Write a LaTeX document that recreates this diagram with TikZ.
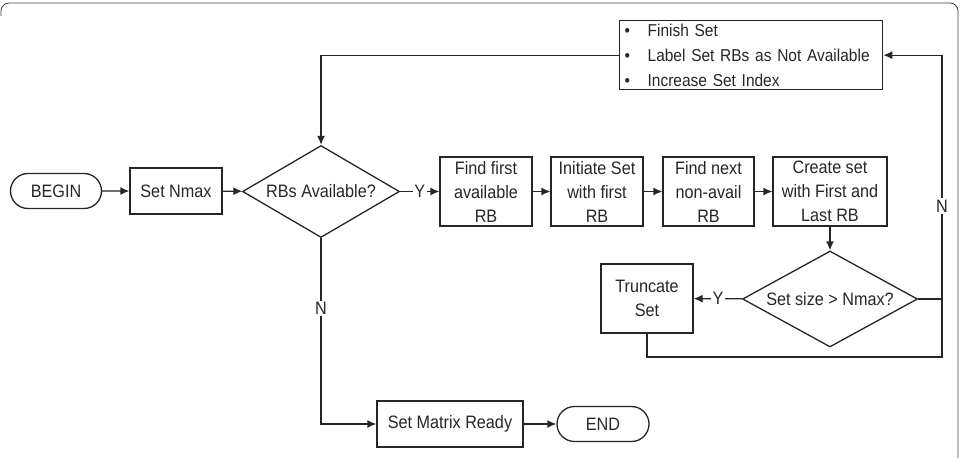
\documentclass[tikz,border=0pt]{standalone}
\usepackage{fontspec}
\setmainfont{Liberation Sans}[FakeStretch=0.9]
\usetikzlibrary{shapes.geometric, shapes.misc, arrows.meta, positioning}

\begin{document}
\begin{tikzpicture}[x=1pt, y=-1pt,
  every node/.style={font=\fontsize{18}{24}\selectfont, text=black!85},
  wire/.style={draw=black!85, line width=1.3pt},
  flow/.style={wire, -{Latex[length=9pt, width=8pt]}},
  terminal/.style={wire, rounded rectangle, minimum width=91pt, minimum height=35pt, inner sep=0pt},
  stepbox/.style={wire, rectangle, align=center, minimum width=92pt, minimum height=69pt, inner sep=0pt},
  decision/.style={wire, diamond, aspect=1.7, inner sep=0pt},
  lbl/.style={fill=white, inner sep=1.5pt}]
				\useasboundingbox (0,0) rectangle (961,458);

				% Outer frame
				\draw[black!75, line width=0.8pt, rounded corners=8pt] (1,16) |- (958,3) -- (958,458);

				% Main row
				\node[terminal] (begin) at (56,191) {BEGIN};
				\node[stepbox, minimum height=46pt] (nmax) at (176,191) {Set Nmax};
				\node[decision, minimum width=157pt, minimum height=92pt] (rbs) at (321,191.5) {RBs Available?};
				\node[stepbox] (first) at (486,191.5) {Find first\\available\\RB};
				\node[stepbox] (init) at (597,191.5) {Initiate Set\\with first\\RB};
				\node[stepbox, minimum width=91pt] (next) at (708.5,191.5) {Find next\\non-avail\\RB};
				\node[stepbox, minimum width=114pt] (create) at (830,191.5) {Create set\\with First and\\Last RB};

				% Set bookkeeping
				\node[wire, anchor=north west, text width=253pt, inner xsep=5pt, inner ysep=0pt,
				      minimum height=69pt, align=left, font=\fontsize{17.2}{25}\selectfont] (bullets) at (619,20)
				      {\mbox{\makebox[23pt][l]{\textbullet}Finish Set}\\
				       \mbox{\makebox[23pt][l]{\textbullet}Label Set RBs as Not Available}\\
				       \mbox{\makebox[23pt][l]{\textbullet}Increase Set Index}};

				% Size check
				\node[decision, minimum width=175pt, minimum height=96pt] (sizeq) at (830,299) {Set size > Nmax?};
				\node[stepbox] (trunc) at (647,298.5) {Truncate\\Set};
				\coordinate (loop) at (942,357);

				% Exit row
				\node[stepbox, minimum width=146pt, minimum height=46pt] (ready) at (450,424) {Set Matrix Ready};
				\node[terminal, minimum width=92pt] (endn) at (603,424) {END};

				% Connectors
				\draw[flow] (begin) -- (nmax);
				\draw[flow] (nmax) -- (rbs);
				\draw[flow] (rbs) -- node[lbl]{Y} (first);
				\draw[flow] (first) -- (init);
				\draw[flow] (init) -- (next);
				\draw[flow] (next) -- (create);
				\draw[flow] (create) -- (sizeq);
				\draw[flow] (sizeq) -- node[lbl]{Y} (trunc);
				\draw[wire] (sizeq.east) -- (sizeq.east -| loop);
				\draw[flow] (trunc.south) |- (loop) |- node[lbl, pos=0.25]{N} (bullets.east);
				\draw[flow] (bullets.west) -| (rbs.north);
				\draw[flow] (rbs.south) |- node[lbl, pos=0.19]{N} (ready.west);
				\draw[flow] (ready) -- (endn);
\end{tikzpicture}
\end{document}
